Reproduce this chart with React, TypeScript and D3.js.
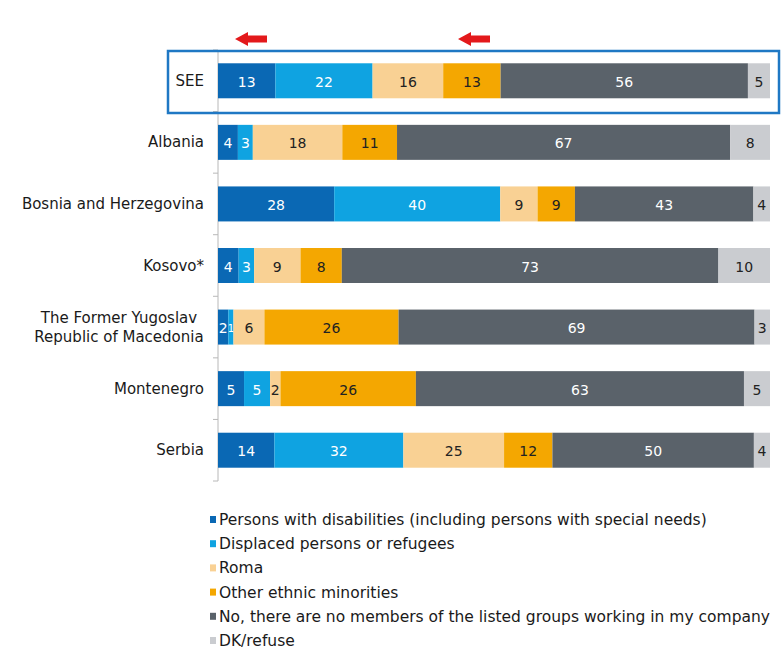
import React from "react";
import * as d3 from "d3";

const categories = [
  "SEE",
  "Albania",
  "Bosnia and Herzegovina",
  "Kosovo*",
  "The Former Yugoslav|Republic of Macedonia",
  "Montenegro",
  "Serbia",
];
const seriesNames = [
  "Persons with disabilities (including persons with special needs)",
  "Displaced persons or refugees",
  "Roma",
  "Other ethnic minorities",
  "No, there are no members of the listed groups working in my company",
  "DK/refuse",
];
const disabilities = [13, 4, 28, 4, 2, 5, 14];
const displaced = [22, 3, 40, 3, 1, 5, 32];
const roma = [16, 18, 9, 9, 6, 2, 25];
const otherMinorities = [13, 11, 9, 8, 26, 26, 12];
const noMembers = [56, 67, 43, 73, 69, 63, 50];
const dkRefuse = [5, 8, 4, 10, 3, 5, 4];

const seriesValues = [disabilities, displaced, roma, otherMinorities, noMembers, dkRefuse];
const colors = ["#0a68b4", "#0fa3e1", "#f9d194", "#f4a701", "#5a626a", "#caccd0"];
const textColors = ["#ffffff", "#ffffff", "#222222", "#222222", "#ffffff", "#222222"];

const W = 782;
const H = 650;
const FONT = "'DejaVu Sans', sans-serif";

export default function App() {
  const x = d3.scaleLinear().domain([0, 1]).range([218, 770]);
  const y = d3.scaleBand<number>().domain(d3.range(categories.length)).range([50, 481]).padding(0);
  const barH = 35;

  const rows = categories.map((c, i) => {
    const vals = seriesValues.map((s) => s[i]);
    const total = d3.sum(vals);
    let acc = 0;
    const segs = vals.map((v, k) => {
      const x0 = acc / total;
      acc += v;
      return { k, v, x0, x1: acc / total };
    });
    return { c, i, segs };
  });

  return (
    <svg width={W} height={H} style={{ display: "block", position: "absolute", left: 0, top: 0, background: "#fff" }}>
      {/* red arrows */}
      {[235, 458].map((ax, j) => (
        <path
          key={j}
          d={`M${ax},39 L${ax + 13},32 L${ax + 13},35.5 L${ax + 32},35.5 L${ax + 32},42.5 L${ax + 13},42.5 L${ax + 13},46 Z`}
          fill="#e3191b"
        />
      ))}
      {/* axis */}
      <line x1={218} x2={218} y1={y.range()[0]} y2={y.range()[1]} stroke="#b8b8b8" strokeWidth={1} />
      {d3.range(categories.length + 1).map((k) => {
        const ty = y.range()[0] + k * y.step();
        return <line key={k} x1={213} x2={218} y1={ty} y2={ty} stroke="#b8b8b8" />;
      })}
      {rows.map((r) => {
        const cy = y(r.i)! + y.bandwidth() / 2;
        const lines = r.c.split("|");
        const multi = lines.length > 1;
        const lx = multi ? 119 : 204;
        return (
          <g key={r.i}>
            <text
              x={lx}
              y={cy - ((lines.length - 1) * 19) / 2}
              textAnchor={multi ? "middle" : "end"}
              fontFamily={FONT}
              fontSize={15}
              fill="#1a1a1a"
              dominantBaseline="central"
            >
              {lines.map((l, li) => (
                <tspan key={li} x={lx} dy={li === 0 ? 0 : 19}>
                  {l}
                </tspan>
              ))}
            </text>
            {r.segs.map((s) => {
              const xa = x(s.x0);
              const xb = x(s.x1);
              const w = xb - xa;
              const fs = w < 10 ? 10 : 14;
              return (
                <g key={s.k}>
                  <rect x={xa} y={cy - barH / 2} width={w} height={barH} fill={colors[s.k]} />
                  <text
                    x={(xa + xb) / 2}
                    y={cy + 1}
                    textAnchor="middle"
                    dominantBaseline="central"
                    fontFamily={FONT}
                    fontSize={fs}
                    fill={textColors[s.k]}
                  >
                    {s.v}
                  </text>
                </g>
              );
            })}
          </g>
        );
      })}
      {/* highlight box */}
      <rect x={168} y={51} width={611} height={62} fill="none" stroke="#1f78c4" strokeWidth={2.5} />
      {/* legend */}
      {seriesNames.map((n, k) => {
        const ly = 520 + k * 24.2;
        return (
          <g key={k}>
            <rect x={210} y={ly - 4} width={6} height={7} fill={colors[k]} />
            <text x={219} y={ly} dominantBaseline="central" fontFamily={FONT} fontSize={15.5} fill="#1a1a1a">
              {n}
            </text>
          </g>
        );
      })}
    </svg>
  );
}
